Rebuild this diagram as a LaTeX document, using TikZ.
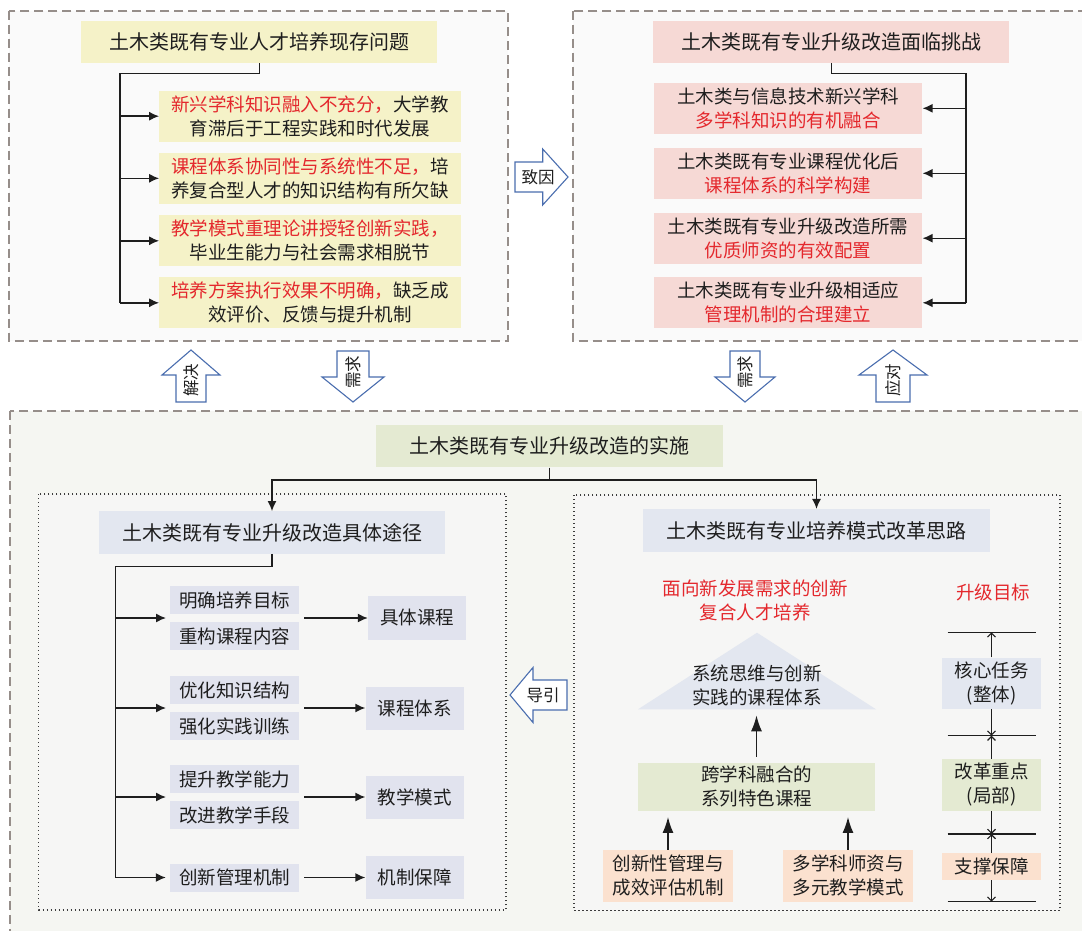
\documentclass[tikz,border=0pt]{standalone}
\usepackage{fontspec}
\setmainfont{Noto Sans CJK SC}
\usetikzlibrary{arrows.meta}
\definecolor{ink}{RGB}{30,30,30}
\definecolor{redtxt}{RGB}{228,40,45}
\definecolor{panelgray}{RGB}{150,142,138}
\definecolor{dotgray}{RGB}{60,60,60}
\definecolor{yelfill}{RGB}{245,242,200}
\definecolor{pinkfill}{RGB}{246,217,213}
\definecolor{bluefill}{RGB}{227,231,240}
\definecolor{lavfill}{RGB}{225,227,238}
\definecolor{greenfill}{RGB}{228,234,210}
\definecolor{orangefill}{RGB}{251,225,207}
\definecolor{arrowblue}{RGB}{74,110,175}
\definecolor{toppanel}{RGB}{250,250,250}
\definecolor{botpanel}{RGB}{245,246,242}
\definecolor{subfill}{RGB}{246,246,245}
\newcommand\mybody{\fontsize{18.5}{24}\selectfont}
\newcommand\mytitle{\fontsize{20}{24}\selectfont}
\newcommand\mylabel{\fontsize{16.5}{20}\selectfont}
\tikzset{
  panel/.style={draw=panelgray, line width=1.8pt, dash pattern=on 9pt off 5pt},
  subpanel/.style={draw=dotgray, line width=1.4pt, dash pattern=on 1.4pt off 2.6pt},
  box/.style={inner sep=0pt, align=center, font=\mybody, text=ink},
  titlebox/.style={box, font=\mytitle},
  conn/.style={draw=ink, line width=1.4pt},
  conarrow/.style={conn, -{Latex[length=10pt,width=9pt]}},
  bigarrow/.style={draw=ink, line width=1.6pt, -{Latex[length=16pt,width=11pt]}},
  axisline/.style={draw=ink, line width=1.1pt},
  axarr/.style={draw=ink, line width=1.1pt, -{Straight Barb[length=4pt,width=8pt]}},
  blockarrow/.style={draw=arrowblue, fill=white, line width=1.1pt, line join=miter},
  arrowlabel/.style={inner sep=0pt, font=\mylabel, text=ink},
}
\begin{document}
\begin{tikzpicture}[x=1pt,y=-1pt]
\useasboundingbox (0,0) rectangle (1082,931);
\fill[white] (0,0) rectangle (1082,931);

% ---------- panels ----------
\path[panel, fill=toppanel] (9.3,10.7) rectangle (508.3,340.7);
\path[panel, fill=toppanel] (572.7,10.7) rectangle (1095,340.7);
\path[panel, fill=botpanel] (10,411) rectangle (1095,945);
\path[subpanel, fill=subfill] (38.6,494) rectangle (506,910);
\path[subpanel, fill=subfill] (574,495) rectangle (1060,910.7);

% ---------- top left ----------
\node[titlebox, fill=yelfill, minimum width=356pt, minimum height=42.6pt] (tltitle) at (259.2,42) {土木类既有专业人才培养现存问题};
\node[box, fill=yelfill, minimum width=301.4pt, minimum height=51pt] (tl1) at (310,116.2) {{\color{redtxt}新兴学科知识融入不充分，}大学教\\育滞后于工程实践和时代发展};
\node[box, fill=yelfill, minimum width=301.4pt, minimum height=51pt] (tl2) at (310,178.3) {{\color{redtxt}课程体系协同性与系统性不足，}培\\养复合型人才的知识结构有所欠缺};
\node[box, fill=yelfill, minimum width=301.4pt, minimum height=51pt] (tl3) at (310,240.8) {{\color{redtxt}教学模式重理论讲授轻创新实践，}\\毕业生能力与社会需求相脱节};
\node[box, fill=yelfill, minimum width=301.4pt, minimum height=51pt] (tl4) at (310,302.8) {{\color{redtxt}培养方案执行效果不明确，}缺乏成\\效评价、反馈与提升机制};
\coordinate (tlbus) at (120,73.3);
\draw[conn] (tltitle.south) |- (tlbus) -- (tlbus |- tl4);
\foreach \i in {1,2,3,4} \draw[conarrow] (tlbus |- tl\i) -- (tl\i);

% ---------- top right ----------
\node[titlebox, fill=pinkfill, minimum width=356pt, minimum height=42.6pt] (trtitle) at (831.3,42) {土木类既有专业升级改造面临挑战};
\node[box, fill=pinkfill, minimum width=268.3pt, minimum height=51.3pt] (tr1) at (788.2,108.3) {土木类与信息技术新兴学科\\{\color{redtxt}多学科知识的有机融合}};
\node[box, fill=pinkfill, minimum width=268.3pt, minimum height=51.3pt] (tr2) at (788.2,173.3) {土木类既有专业课程优化后\\{\color{redtxt}课程体系的科学构建}};
\node[box, fill=pinkfill, minimum width=268.3pt, minimum height=51.3pt] (tr3) at (788.2,238.2) {土木类既有专业升级改造所需\\{\color{redtxt}优质师资的有效配置}};
\node[box, fill=pinkfill, minimum width=268.3pt, minimum height=51.3pt] (tr4) at (788.2,302.8) {土木类既有专业升级相适应\\{\color{redtxt}管理机制的合理建立}};
\coordinate (trbus) at (966,73.3);
\draw[conn] (trtitle.south) |- (trbus) -- (trbus |- tr4);
\foreach \i in {1,2,3,4} \draw[conarrow] (trbus |- tr\i) -- (tr\i);

% ---------- block arrows ----------
\draw[blockarrow] (515,162) -- (542.7,162) -- (542.7,149) -- (568,177) -- (542.7,205) -- (542.7,192) -- (515,192) -- cycle;
\node[arrowlabel] (zhiyin) at (538,177) {致因};

\begin{scope}[shift={(191,0)}]
\draw[blockarrow] (0,350) -- (29,375) -- (15,375) -- (15,402) -- (-15,402) -- (-15,375) -- (-29,375) -- cycle;
\node[arrowlabel, rotate=90] (jiejue) at (0,380) {解决};
\end{scope}
\begin{scope}[shift={(353,0)}]
\draw[blockarrow] (-16,351) -- (16,351) -- (16,377) -- (31,377) -- (0,402) -- (-31,377) -- (-16,377) -- cycle;
\node[arrowlabel, rotate=90] (xuqiu1) at (0,372) {需求};
\end{scope}
\begin{scope}[shift={(745,0)}]
\draw[blockarrow] (-15,351) -- (15,351) -- (15,377) -- (30,377) -- (0,402) -- (-30,377) -- (-15,377) -- cycle;
\node[arrowlabel, rotate=90] (xuqiu2) at (0,372) {需求};
\end{scope}
\begin{scope}[shift={(893,0)}]
\draw[blockarrow] (0,350) -- (34,375) -- (17,375) -- (17,402) -- (-17,402) -- (-17,375) -- (-34,375) -- cycle;
\node[arrowlabel, rotate=90] (yingdui) at (0,380) {应对};
\end{scope}

% ---------- bottom ----------
\node[titlebox, fill=greenfill, minimum width=346.7pt, minimum height=42.3pt] (impl) at (549.3,446.2) {土木类既有专业升级改造的实施};
\node[titlebox, fill=bluefill, minimum width=346.5pt, minimum height=42.4pt] (lstitle) at (272,532.5) {土木类既有专业升级改造具体途径};
\node[titlebox, fill=bluefill, minimum width=347pt, minimum height=42.7pt] (rstitle) at (816.5,530.5) {土木类既有专业培养模式改革思路};
\coordinate (busL) at (272,480);
\coordinate (busR) at (816.5,480);
\draw[conn] (impl.south) -- (impl.south |- busL);
\draw[conarrow] (impl.south |- busL) -- (busL) -- (lstitle);
\draw[conarrow] (impl.south |- busR) -- (busR) -- (rstitle);

% left sub-panel
\node[box, fill=lavfill, minimum width=129pt, minimum height=28pt] (a1) at (234.5,600) {明确培养目标};
\node[box, fill=lavfill, minimum width=129pt, minimum height=28pt] (a2) at (234.5,636) {重构课程内容};
\node[box, fill=lavfill, minimum width=129pt, minimum height=28pt] (b1) at (234.5,690) {优化知识结构};
\node[box, fill=lavfill, minimum width=129pt, minimum height=28pt] (b2) at (234.5,726) {强化实践训练};
\node[box, fill=lavfill, minimum width=129pt, minimum height=28pt] (c1) at (234.5,779) {提升教学能力};
\node[box, fill=lavfill, minimum width=129pt, minimum height=28pt] (c2) at (234.5,815) {改进教学手段};
\node[box, fill=lavfill, minimum width=129pt, minimum height=28pt] (d1) at (234.5,877.5) {创新管理机制};
\node[box, fill=lavfill, minimum width=98pt, minimum height=44pt] (r1) at (417,618) {具体课程};
\node[box, fill=lavfill, minimum width=98pt, minimum height=43pt] (r2) at (414.5,708) {课程体系};
\node[box, fill=lavfill, minimum width=98pt, minimum height=43pt] (r3) at (414.5,797) {教学模式};
\node[box, fill=lavfill, minimum width=98pt, minimum height=43pt] (r4) at (414.5,877.5) {机制保障};
\coordinate (pa) at (170,618);
\coordinate (pb) at (170,708);
\coordinate (pc) at (170,797);
\coordinate (pae) at (299,618);
\coordinate (pbe) at (299,708);
\coordinate (pce) at (299,797);
\coordinate (lbus) at (115.5,566.5);
\draw[conn] (lstitle.south) |- (lbus) -- (lbus |- d1);
\draw[conarrow, shorten >=4pt] (lbus |- pa) -- (pa);
\draw[conarrow, shorten >=4pt] (lbus |- pb) -- (pb);
\draw[conarrow, shorten >=4pt] (lbus |- pc) -- (pc);
\draw[conarrow, shorten >=4pt] (lbus |- d1) -- (d1.west);
\draw[conarrow, shorten <=5pt] (pae) -- (r1);
\draw[conarrow, shorten <=5pt] (pbe) -- (r2);
\draw[conarrow, shorten <=5pt] (pce) -- (r3);
\draw[conarrow, shorten <=5pt] (d1.east) -- (r4);

% 导引 arrow
\draw[blockarrow] (510,695) -- (533,667.5) -- (533,680) -- (567,680) -- (567,710) -- (533,710) -- (533,722.5) -- cycle;
\node[arrowlabel] (daoyin) at (543,695) {导引};

% right sub-panel
\node[box, text=redtxt] (goal) at (755,600) {面向新发展需求的创新\\复合人才培养};
\node[box, text=redtxt] (upg) at (993,592.7) {升级目标};
\fill[bluefill] (757,632.7) -- (876,709.3) -- (638,709.3) -- cycle;
\coordinate (tribase) at (757,709.3);
\node[box] (tri) at (757,685) {系统思维与创新\\实践的课程体系};
\node[box, fill=greenfill, minimum width=237pt, minimum height=48pt] (g1) at (756.5,786.7) {跨学科融合的\\系列特色课程};
\node[box, fill=orangefill, minimum width=130pt, minimum height=51.7pt] (o1) at (668,875.8) {创新性管理与\\成效评估机制};
\node[box, fill=orangefill, minimum width=130pt, minimum height=51.7pt] (o2) at (848,875.8) {多学科师资与\\多元教学模式};
\draw[bigarrow, shorten <=6pt, shorten >=6pt] (g1.north) -- (g1.north |- tribase);
\draw[bigarrow, shorten >=6pt] (o1.north) -- (o1.north |- g1.south);
\draw[bigarrow, shorten >=6pt] (o2.north) -- (o2.north |- g1.south);

% axis
\coordinate (h1) at (991.5,632.3);
\coordinate (h2) at (991.5,735.7);
\coordinate (h3) at (991.5,834);
\coordinate (h4) at (991.5,901.7);
\foreach \h in {h1,h2,h3,h4} \draw[axisline] ([xshift=-44pt]\h) -- ([xshift=44pt]\h);
\node[box, fill=bluefill, minimum width=98.5pt, minimum height=51.3pt] (k1) at (991.5,683.3) {核心任务\\(整体)};
\node[box, fill=greenfill, minimum width=98.5pt, minimum height=51.7pt] (k2) at (991.5,784.8) {改革重点\\(局部)};
\node[box, fill=orangefill, minimum width=98.5pt, minimum height=26.7pt] (k3) at (991.5,866.7) {支撑保障};
\draw[axarr] (k1.north) -- (h1);
\draw[axarr] (k1.south) -- (h2);
\draw[axarr] (k2.north) -- (h2);
\draw[axarr] (k2.south) -- (h3);
\draw[axarr] (k3.north) -- (h3);
\draw[axarr] (k3.south) -- (h4);
\end{tikzpicture}
\end{document}
